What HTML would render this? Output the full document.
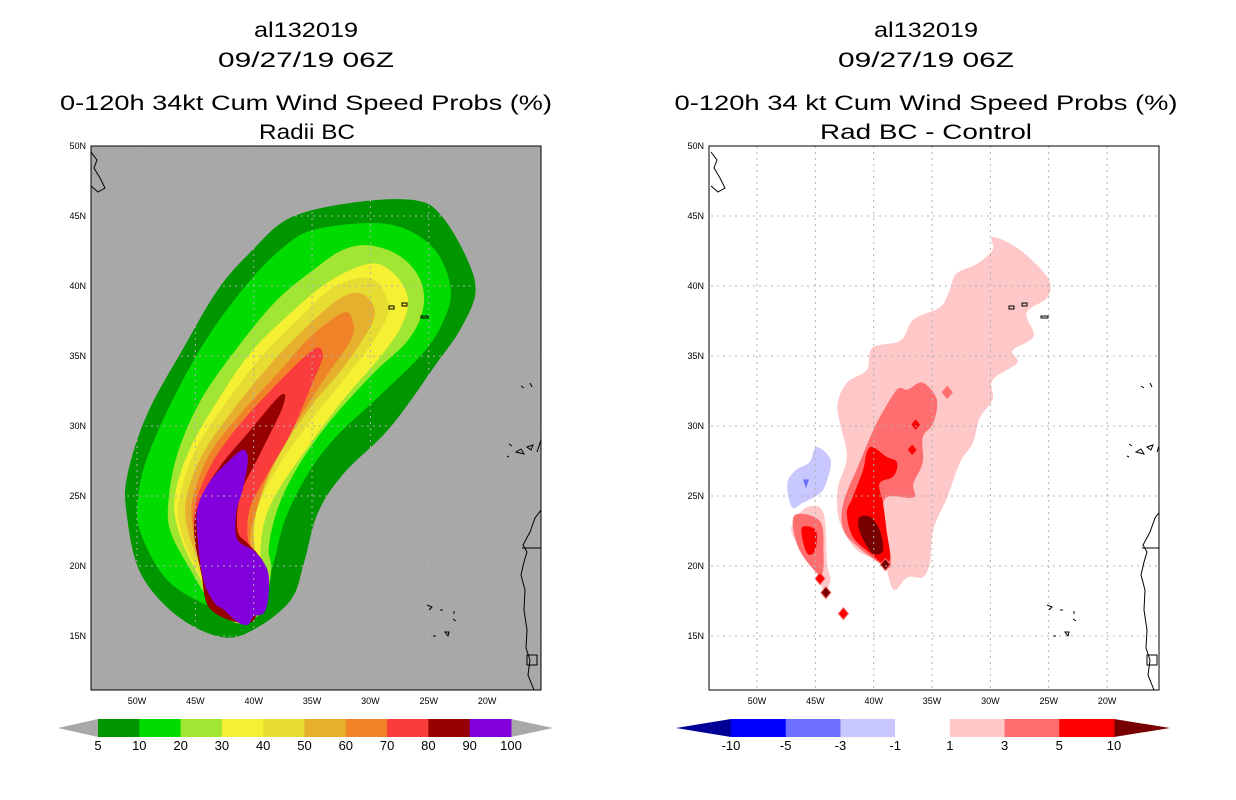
<!DOCTYPE html>
<html><head><meta charset="utf-8"><style>
html,body{margin:0;padding:0;background:#fff;}
svg{display:block;font-family:"Liberation Sans",sans-serif;}
</style></head><body>
<svg id="s" width="1236" height="800" viewBox="0 0 1236 800" xmlns="http://www.w3.org/2000/svg">
<defs>
<clipPath id="cl"><rect x="91" y="146" width="450" height="544"/></clipPath>
<clipPath id="cr"><rect x="709" y="146" width="450" height="544"/></clipPath>
</defs>
<g font-size="21" text-anchor="middle" fill="#000">
<text x="306" y="37" textLength="104" lengthAdjust="spacingAndGlyphs">al132019</text>
<text x="306" y="67" textLength="176" lengthAdjust="spacingAndGlyphs">09/27/19 06Z</text>
<text x="306" y="110" textLength="492" lengthAdjust="spacingAndGlyphs">0-120h 34kt Cum Wind Speed Probs (%)</text>
<text x="307" y="139" textLength="96" lengthAdjust="spacingAndGlyphs">Radii BC</text>
</g>
<g font-size="21" text-anchor="middle" fill="#000">
<text x="926" y="37" textLength="104" lengthAdjust="spacingAndGlyphs">al132019</text>
<text x="926" y="67" textLength="176" lengthAdjust="spacingAndGlyphs">09/27/19 06Z</text>
<text x="926" y="110" textLength="503" lengthAdjust="spacingAndGlyphs">0-120h 34 kt Cum Wind Speed Probs (%)</text>
<text x="926" y="139" textLength="212" lengthAdjust="spacingAndGlyphs">Rad BC - Control</text>
</g>
<rect x="91" y="146" width="450" height="544" fill="#a8a8a8"/>
<rect x="709" y="146" width="450" height="544" fill="#fff"/>
<g id="lmap" clip-path="url(#cl)"></g>
<g id="rmap" clip-path="url(#cr)"></g>
<rect x="91" y="146" width="450" height="544" fill="none" stroke="#000" stroke-width="1"/>
<rect x="709" y="146" width="450" height="544" fill="none" stroke="#000" stroke-width="1"/>
<g id="axes"></g>
<g id="cbars"></g>
</svg>
<script>
const NS="http://www.w3.org/2000/svg";
// ---- data ----
const lonTicks=[50,45,40,35,30,25,20];
const latTicks=[15,20,25,30,35,40,45,50];
const leftLevels=[5,10,20,30,40,50,60,70,80,90,100];
const leftColors=["#009600","#00dc00","#a0e632","#f5f032","#e6dc32","#e6af2d","#f08228","#fa3c3c","#960000","#8200dc"];
const rightLevels=["-10","-5","-3","-1","1","3","5","10"];
const rightColors=["#0000ff","#6e6eff","#c8c8ff","#ffffff","#ffc8c8","#ff6e6e","#ff0000"];
const rightLowColor="#000096", rightHighColor="#780000";
// contour polygons, [lonW, latN]
const p05=[[36.8,44.9],[31.1,46.0],[26.0,46.1],[23.8,44.9],[21.7,41.9],[21.0,39.5],[22.3,36.9],[24.3,34.5],[28.3,29.9],[32.3,26.6],[34.5,23.8],[35.7,20.2],[36.8,17.6],[39.7,15.6],[42.6,14.9],[46.5,16.4],[49.7,19.5],[50.9,23.8],[50.8,26.6],[49.1,30.9],[46.0,35.6],[43.1,39.7],[40.3,42.4]];
const p10=[[34.9,44.0],[30.0,44.5],[26.8,44.0],[24.3,42.4],[23.1,39.7],[23.8,37.4],[25.5,35.2],[28.9,32.4],[33.2,29.0],[35.7,26.1],[37.4,23.1],[38.3,20.2],[39.4,17.8],[41.4,16.9],[43.7,17.1],[47.4,19.0],[49.7,22.4],[49.9,24.9],[49.1,27.8],[46.8,32.1],[43.9,36.4],[40.3,40.4],[37.4,42.8]];
const p20=[[30.0,42.9],[27.4,42.1],[25.7,40.4],[25.5,38.3],[26.8,36.1],[29.7,33.8],[33.4,30.4],[36.2,27.1],[37.9,24.2],[38.7,21.4],[38.5,19.7],[39.1,17.1],[40.3,16.1],[42.0,16.1],[43.7,17.4],[45.4,19.7],[47.1,22.4],[47.3,24.7],[46.5,28.1],[44.5,31.9],[41.4,35.6],[38.0,39.0],[34.5,41.4],[32.3,42.6]];
const p30=[[30.0,41.6],[28.0,40.9],[26.8,39.2],[27.2,37.4],[28.9,35.2],[32.3,31.9],[35.1,28.8],[37.9,25.4],[39.1,23.1],[39.4,20.6],[38.8,19.0],[39.1,17.4],[41.1,15.9],[42.8,16.9],[44.5,19.0],[46.2,21.9],[46.8,24.7],[45.6,28.1],[43.4,31.4],[40.3,35.2],[36.8,38.1],[33.4,40.4]];
const p40=[[30.3,40.6],[28.9,39.7],[28.5,38.1],[29.7,36.1],[32.3,33.3],[35.1,30.4],[37.9,27.1],[39.7,24.0],[40.0,21.4],[39.4,19.5],[39.7,17.6],[41.4,16.1],[43.1,17.4],[44.8,19.7],[46.2,22.4],[46.4,24.7],[45.1,28.1],[42.6,31.4],[39.4,34.9],[36.2,37.6],[33.2,39.9]];
const p50=[[30.9,39.5],[29.7,38.5],[30.0,37.1],[32.3,34.2],[35.1,31.4],[37.7,28.1],[39.4,24.9],[40.0,22.4],[39.7,19.7],[40.0,17.8],[41.4,16.4],[43.1,17.6],[44.5,20.0],[45.6,22.4],[45.8,24.7],[44.5,27.8],[42.0,30.9],[38.8,34.2],[35.7,36.9],[32.8,39.0]];
const p60=[[32.3,38.1],[31.5,37.4],[31.7,36.1],[34.0,33.3],[36.2,30.4],[38.3,27.4],[39.7,24.2],[40.3,21.9],[39.7,19.7],[40.5,17.6],[41.7,16.6],[43.4,17.8],[44.5,20.2],[45.2,22.6],[45.2,24.9],[43.7,28.1],[41.1,30.9],[37.9,33.8],[35.1,36.4]];
const p70=[[34.5,35.6],[34.1,34.9],[35.1,32.8],[36.8,29.5],[38.8,26.6],[40.3,24.2],[40.5,21.9],[39.7,20.4],[40.3,17.8],[41.7,16.6],[43.4,17.6],[44.5,20.0],[45.1,22.4],[44.9,24.7],[43.4,27.6],[40.9,30.4],[37.9,33.1],[35.7,34.9]];
const p80=[[37.7,32.2],[37.5,31.4],[39.4,28.1],[41.1,25.2],[41.4,22.6],[40.5,21.6],[39.7,20.9],[39.1,19.9],[39.4,17.4],[40.5,15.9],[43.7,16.9],[44.5,19.5],[45.1,22.4],[44.6,24.7],[42.9,27.1],[40.5,29.5]];
const p90=[[40.9,28.3],[40.5,27.6],[40.9,25.6],[41.5,23.8],[41.4,21.9],[40.0,21.1],[39.1,20.2],[38.7,19.2],[38.8,17.4],[39.2,16.6],[40.0,16.4],[40.5,15.8],[41.4,16.0],[42.6,16.9],[43.4,17.4],[44.3,19.0],[44.8,21.9],[44.8,24.2],[43.7,26.1],[42.0,27.6]];
const leftPolys=[p05,p10,p20,p30,p40,p50,p60,p70,p80,p90];
// difference map polygons
const dPink=[[29.8,43.5],[27.5,42.6],[25.1,40.6],[25.1,39.2],[26.9,38.1],[26.3,36.4],[28.1,35.4],[27.7,34.5],[29.8,33.3],[29.8,31.9],[30.9,30.6],[31.5,28.8],[32.6,27.4],[33.7,24.9],[34.9,22.6],[35.2,20.2],[35.8,19.2],[37.1,19.2],[38.3,18.3],[39.2,20.2],[41.4,21.1],[42.9,23.1],[43.1,25.4],[42.3,27.8],[42.9,30.2],[43.1,31.6],[42.3,33.1],[40.6,34.0],[40.1,35.6],[37.7,36.1],[36.6,37.6],[34.3,38.5],[33.5,39.7],[32.9,40.9],[31.1,41.6],[29.8,42.6]];
const dPink2=[[45.7,24.2],[44.3,23.8],[44.0,20.2],[43.7,19.0],[44.3,18.3],[45.2,20.2],[46.9,22.1],[46.9,23.1]];
const dSalmon=[[35.8,33.1],[34.6,31.9],[34.9,30.2],[35.8,29.2],[35.8,27.4],[36.6,25.9],[36.6,24.9],[38.9,24.9],[39.2,23.3],[38.6,21.1],[38.6,19.9],[39.5,20.2],[41.4,21.4],[42.6,22.6],[42.6,24.5],[41.2,27.4],[40.3,29.2],[39.5,30.6],[38.0,32.6],[37.1,32.6]];
const dSalmon2=[[46.8,23.6],[44.6,23.2],[44.3,21.0],[44.4,19.5],[45.0,19.6],[46.5,21.4]];
const dRed=[[40.1,28.5],[38.9,27.8],[38.0,27.4],[38.3,26.4],[39.5,25.9],[39.2,24.5],[38.9,22.6],[38.6,20.6],[39.2,20.2],[40.3,20.9],[41.8,22.1],[42.3,23.8],[41.8,24.9],[40.9,26.9],[40.6,28.1]];
const dRed2=[[46.1,22.8],[45.0,22.6],[44.9,21.6],[45.2,20.9],[45.7,20.9],[46.1,21.9]];
const dDark=[[41.2,23.5],[40.3,23.5],[39.5,22.6],[39.2,21.1],[40.1,20.9],[40.9,21.9],[41.3,22.8]];
const dBlue=[[44.9,28.5],[43.7,27.6],[44.0,26.1],[44.6,25.2],[46.1,24.5],[47.0,24.2],[47.4,25.9],[46.6,26.9],[45.5,27.4]];
const diamonds=[[44.6,19.1,"#ff0000"],[44.1,18.1,"#780000"],[42.6,16.6,"#ff0000"],[39.0,20.1,"#780000"],[33.7,32.4,"#ff6e6e"],[36.4,30.1,"#ff0000"],[36.7,28.3,"#ff0000"]];
// ---- axes ----
function xOf(lonW,ox){return ox+137+(50-lonW)*11.67;}
function yOf(lat){return 146+(50-lat)*14;}
function el(tag,attrs,parent){const e=document.createElementNS(NS,tag);for(const k in attrs)e.setAttribute(k,attrs[k]);parent.appendChild(e);return e;}
function smooth(poly,ox){
  const P=poly.map(p=>[xOf(p[0],ox),yOf(p[1])]);const n=P.length;
  let d="M"+P[0][0].toFixed(1)+","+P[0][1].toFixed(1);
  for(let i=0;i<n;i++){const p0=P[(i-1+n)%n],p1=P[i],p2=P[(i+1)%n],p3=P[(i+2)%n];
    const c1=[p1[0]+(p2[0]-p0[0])/6,p1[1]+(p2[1]-p0[1])/6],c2=[p2[0]-(p3[0]-p1[0])/6,p2[1]-(p3[1]-p1[1])/6];
    d+=` C${c1[0].toFixed(1)},${c1[1].toFixed(1)} ${c2[0].toFixed(1)},${c2[1].toFixed(1)} ${p2[0].toFixed(1)},${p2[1].toFixed(1)}`;}
  return d+"Z";
}
const L=document.getElementById('lmap'),R=document.getElementById('rmap'),A=document.getElementById('axes'),C=document.getElementById('cbars');
leftPolys.forEach((p,i)=>{
  const e=el('path',{d:smooth(p,0),fill:leftColors[i]},L);
  
  
});
[[dPink,"#ffc8c8","diff-1-3"],[dPink2,"#ffc8c8","diff-1-3-west"],[dBlue,"#c8c8ff","diff-neg1-neg3"],[dSalmon,"#ff6e6e","diff-3-5"],[dSalmon2,"#ff6e6e","diff-3-5-west"],[dRed,"#ff0000","diff-5-10"],[dRed2,"#ff0000","diff-5-10-west"],[dDark,"#780000","diff-over-10"]].forEach(d=>{
  const e=el('path',{d:smooth(d[0],620),fill:d[1]},R);
  
  
});
{const bx=xOf(45.8,620),by=yOf(25.9);const e=el('polygon',{points:`${bx-3},${by-4} ${bx+3},${by-4} ${bx},${by+5}`,fill:"#6e6eff"},R);

}
diamonds.forEach(d=>{const x=xOf(d[0],620),y=yOf(d[1]);
  const e=el('polygon',{points:`${x},${y-6} ${x+5},${y} ${x},${y+6} ${x-5},${y}`,fill:d[2],stroke:"#ff6e6e","stroke-width":1},R);
  
  });
// grid, land, ticks
[[L,0],[R,620]].forEach(([g,ox])=>{
  lonTicks.forEach(v=>{const x=xOf(v,ox);const e=el('line',{x1:x,x2:x,y1:146,y2:690,stroke:"#b0b0b0","stroke-dasharray":"2,4","stroke-width":1},g);
    
    });
  latTicks.forEach(v=>{const y=yOf(v);const e=el('line',{x1:91+ox,x2:541+ox,y1:y,y2:y,stroke:"#b0b0b0","stroke-dasharray":"2,4","stroke-width":1},g);
    
    });
  const land=el('g',{fill:"none",stroke:"#000","stroke-width":1},g);
  
  
  const o=ox;
  el('path',{d:`M${541+o},510 L${535+o},518 L${530+o},532 L${523+o},545 L${527+o},552 L${524+o},562 L${521+o},575 L${525+o},590 L${524+o},610 L${527+o},630 L${526+o},648 L${530+o},660 L${528+o},675 L${534+o},690 M${522+o},548 L${541+o},548 M${541+o},440 L${537+o},452 M${91+o},152 L${97+o},160 L${94+o},168 L${100+o},178 L${105+o},188 L${98+o},192 L${91+o},186`},land);
  el('path',{d:`M${389+o},306 h5 v3 h-5z M${402+o},303 h5 v3 h-5z M${421+o},316 h7 v2 h-7z M${521+o},386 l3,2 M${530+o},383 l2,4 M${509+o},444 l3,2 M${516+o},452 l5,-3 l3,5 z M${527+o},447 l6,-2 l-2,5 z M${507+o},456 l2,1 M${427+o},605 l5,2 l-3,3 M${440+o},610 l3,0 M${454+o},611 v3 M${453+o},619 l3,2 M${433+o},636 l3,0 M${445+o},632 l4,0 l-1,4z M${527+o},655 h10 v10 h-10z`},land);
});
[0,618].forEach(ox=>{
  latTicks.forEach(v=>{const e=el('text',{x:86+ox,y:yOf(v)+3,"font-size":9,"text-anchor":"end"},A);e.textContent=v+"N";
    
    });
  lonTicks.forEach(v=>{const e=el('text',{x:xOf(v,ox===0?0:620),y:704,"font-size":9,"text-anchor":"middle"},A);e.textContent=v+"W";
    
    });
});
// colorbars
{const x0=98,w=(511-98)/leftColors.length,y0=719,h=18;
 const t1=el('polygon',{points:`58,728 ${x0},${y0} ${x0},${y0+h}`,fill:"#a8a8a8"},C);
 
 
 const t2=el('polygon',{points:`553,728 511,${y0} 511,${y0+h}`,fill:"#a8a8a8"},C);
 
 
 leftColors.forEach((c,i)=>{const e=el('rect',{x:x0+i*w,y:y0,width:w+0.5,height:h,fill:c},C);
   
   });
 leftLevels.forEach((v,i)=>{const e=el('text',{x:x0+i*w,y:750,"font-size":13,"text-anchor":"middle"},C);e.textContent=v;
   
   });
}
{const x0=731,w=(1114-731)/rightColors.length,y0=719,h=18;
 const t1=el('polygon',{points:`676,728 ${x0},${y0} ${x0},${y0+h}`,fill:rightLowColor},C);
 
 
 const t2=el('polygon',{points:`1170,728 1114,${y0} 1114,${y0+h}`,fill:rightHighColor},C);
 
 
 rightColors.forEach((c,i)=>{const e=el('rect',{x:x0+i*w,y:y0,width:w+0.5,height:h,fill:c},C);
   
   });
 rightLevels.forEach((v,i)=>{const e=el('text',{x:x0+i*w,y:750,"font-size":13,"text-anchor":"middle"},C);e.textContent=v;
   
   });
}
</script>
</body></html>
